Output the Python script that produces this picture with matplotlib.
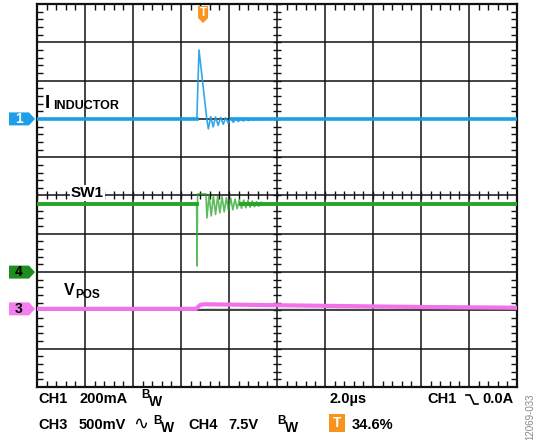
import numpy as np
import matplotlib.pyplot as plt
from matplotlib.patches import Polygon, Rectangle
from matplotlib.lines import Line2D

plt.rcParams['font.family'] = ['Liberation Sans', 'DejaVu Sans']

# time axis (us): 2.0 us/div, 10 div, trigger at 34.6 %
t_per_div = 2.0
trig_pos = 0.346
t_start = -10 * t_per_div * trig_pos
t_end = t_start + 10 * t_per_div

# CH1: inductor current, 200 mA/div, ground at 7.0 div
ch1_t = [t_start, -0.26, -0.17, 0.15, 0.22, 0.32, 0.42, 0.52, 0.63, 0.73, 0.84, 0.94, 1.05,
         1.15, 1.26, 1.36, 1.47, 1.57, 1.68, 1.78, 1.89, 1.99, 2.10, 2.20, 2.31, 2.41, 2.52,
         2.70, t_end]
ch1_ma = [0, 0, 360, 5, -52, 12, -42, 10, -34, 8, -28, 6, -22,
          5, -18, 4, -14, 3, -11, 3, -9, 2, -7, 2, -5, 1, -4,
          0, 0]
ch1_settled = 1.2

# CH4: SW1 node, 7.5 V/div, ground at 3.0 div
ch4_t = [t_start, -0.27, -0.25, -0.23, 0.12, 0.16, 0.25, 0.34, 0.43, 0.52, 0.61, 0.70, 0.79,
         0.88, 0.97, 1.06, 1.15, 1.24, 1.33, 1.42, 1.51, 1.60, 1.69, 1.78, 1.87, 1.96, 2.05,
         2.14, 2.23, 2.32, 2.41, 2.50, t_end]
ch4_v = [13.3, 13.3, 1.2, 15.3, 15.3, 10.6, 15.1, 11.0, 15.0, 11.3, 14.9, 11.6, 14.8,
         11.8, 14.6, 12.0, 14.5, 12.2, 14.3, 12.4, 14.2, 12.5, 14.1, 12.6, 14.0, 12.7, 13.9,
         12.8, 13.8, 12.9, 13.7, 13.3, 13.3]
ch4_settled = 1.6

# CH3: VPOS (AC coupled), 500 mV/div, ground at 2.04 div
ch3_t = [t_start, -0.30, -0.10, 0.10, 2.0, 5.0, 9.0, t_end]
ch3_mv = [0, 0, 55, 60, 52, 40, 25, 15]

W, H = 536, 440
fig = plt.figure(figsize=(W / 100, H / 100), dpi=100)


def fx(px):
    return px / W


def fy(py):
    return 1 - py / H


left, top, right, bottom = 37, 4, 517, 387
pos = [fx(left), fy(bottom), (right - left) / W, (bottom - top) / H]

# graticule
ax = fig.add_axes(pos)
ax.set_xlim(0, 10)
ax.set_ylim(0, 10)
ax.set_xticks(np.arange(0, 11, 1))
ax.set_yticks(np.arange(0, 11, 1))
ax.set_xticks(np.arange(0, 10.01, 0.2), minor=True)
ax.set_yticks(np.arange(0, 10.01, 0.2), minor=True)
ax.tick_params(which='major', length=0, labelbottom=False, labelleft=False)
ax.tick_params(which='minor', direction='in', length=4, width=1, top=True, right=True,
               color='#111111')
ax.grid(True, which='major', color='#111111', lw=1.1)
for s in ax.spines.values():
    s.set_linewidth(1.6)
    s.set_color('#111111')
mt = np.arange(0, 10.01, 0.2)
ax.plot(mt, np.full_like(mt, 5), ls='none', marker='|', ms=6, mew=1, color='#111111')
ax.plot(np.full_like(mt, 5), mt, ls='none', marker='_', ms=6, mew=1, color='#111111')


def chan_axes(ground_div, per_div):
    a = fig.add_axes(pos, frameon=False)
    a.set_xlim(t_start, t_end)
    a.set_ylim(-ground_div * per_div, (10 - ground_div) * per_div)
    a.set_axis_off()
    return a


blue = '#1C9FE6'
green = '#28A428'
pink = '#F272EC'

a1 = chan_axes(7.0, 200)
a1.plot(ch1_t[:2], ch1_ma[:2], color=blue, lw=2.6)
a1.plot([ch1_settled, t_end], ch1_ma[-2:], color=blue, lw=2.6)
a1.plot(ch1_t, ch1_ma, color=blue, lw=1.2, alpha=0.9)

a4 = chan_axes(3.0, 7.5)
a4.plot(ch4_t[:2], ch4_v[:2], color=green, lw=2.8)
a4.plot([ch4_settled, t_end], ch4_v[-2:], color=green, lw=2.8)
a4.plot(ch4_t, ch4_v, color=green, lw=1.2, alpha=0.75)

a3 = chan_axes(2.04, 500)
a3.plot([ch3_t[2], t_end], [0, 0], color='#444444', lw=1.0, zorder=1)
a3.plot(ch3_t, ch3_mv, color=pink, lw=3.0, zorder=2)


# channel ground markers
def marker(a, label, fc, tc):
    py = H - a.transData.transform((t_start, 0))[1]
    pts = [(9, py - 6.5), (29, py - 6.5), (35, py), (29, py + 6.5), (9, py + 6.5)]
    fig.patches.append(Polygon([(fx(x), fy(y)) for x, y in pts], closed=True,
                               transform=fig.transFigure, fc=fc, ec='none'))
    fig.text(fx(19), fy(py), label, color=tc, fontsize=10, fontweight='bold',
             ha='center', va='center')


marker(a1, '1', blue, 'white')
marker(a4, '4', '#1E8C1E', 'black')
marker(a3, '3', '#F47EF0', 'black')

# trigger marker at top
orange = '#F7931E'
tpx = left + trig_pos * (right - left)
tp = [(tpx - 5, 6), (tpx + 5, 6), (tpx + 5, 18), (tpx, 23), (tpx - 5, 18)]
fig.patches.append(Polygon([(fx(x), fy(y)) for x, y in tp], closed=True,
                           transform=fig.transFigure, fc=orange, ec='none'))
fig.text(fx(tpx), fy(13), 'T', color='white', fontsize=8.5, fontweight='bold',
         ha='center', va='center')

# trace labels
fig.text(fx(45), fy(108), 'I', fontsize=13.5, fontweight='bold', va='baseline')
fig.text(fx(53), fy(109), 'INDUCTOR', fontsize=9, fontweight='bold', va='baseline')
fig.text(fx(71), fy(197), 'SW1', fontsize=11, fontweight='bold', va='baseline',
         bbox=dict(facecolor='white', edgecolor='none', pad=1))
fig.text(fx(64), fy(295), 'V', fontsize=11.5, fontweight='bold', va='baseline')
fig.text(fx(75), fy(298), 'POS', fontsize=8.5, fontweight='bold', va='baseline')

# readout
fs = 10.5
r1, r2 = 399, 425


def txt(x, y, s, size=fs, color='black'):
    fig.text(fx(x), fy(y), s, fontsize=size, fontweight='bold', va='center', color=color)


def bw(x, y):
    txt(x, y - 4, 'B', size=8.5)
    txt(x + 8, y + 3, 'W', size=10)


txt(38, r1, 'CH1')
txt(79, r1, '200mA')
bw(141, r1)
txt(329, r1, '2.0µs')
txt(427, r1, 'CH1')
fig.lines.append(Line2D([fx(466), fx(470), fx(474), fx(478)],
                        [fy(395), fy(395), fy(404), fy(404)],
                        transform=fig.transFigure, color='black', lw=1.2))
txt(482, r1, '0.0A')

txt(38, r2, 'CH3')
txt(79, r2, '500mV')
fig.text(fx(141), fy(r2 - 1), '∿', fontsize=13, ha='center', va='center',
         family=['DejaVu Sans'])
bw(153, r2)
txt(188, r2, 'CH4')
txt(228, r2, '7.5V')
bw(277, r2)
fig.patches.append(Rectangle((fx(329), fy(432)), 16 / W, 18 / H,
                             transform=fig.transFigure, fc=orange, ec='none'))
fig.text(fx(337), fy(423), 'T', color='white', fontsize=10, fontweight='bold',
         ha='center', va='center')
txt(352, r2, '34.6%')

fig.text(fx(530), fy(440), '12069-033', rotation=90, fontsize=7, color='#888888',
         ha='center', va='bottom')

fig.savefig('out.png', dpi=100)
